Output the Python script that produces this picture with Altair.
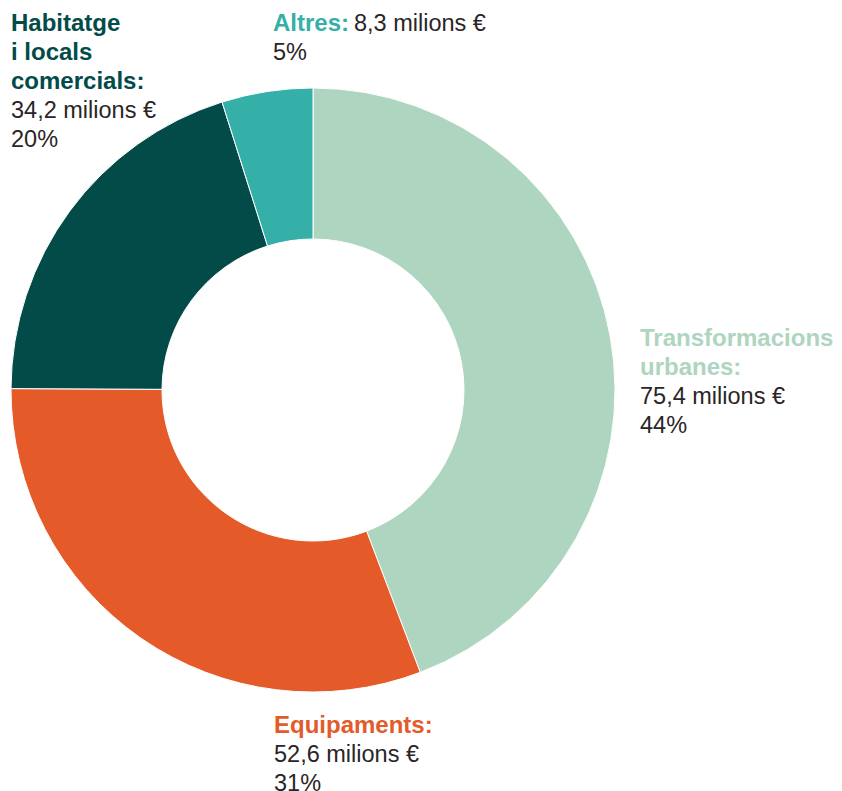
import altair as alt
import pandas as pd

# Data
categories = ["Transformacions urbanes", "Equipaments", "Habitatge i locals comercials", "Altres"]
values = [75.4, 52.6, 34.2, 8.3]
percents = ["44%", "31%", "20%", "5%"]
colors = ["#aed5bf", "#e45a28", "#024b49", "#35b0a8"]
name_lines = [["Transformacions", "urbanes:"], ["Equipaments:"], ["Habitatge", "i locals", "comercials:"], ["Altres:"]]

FONT = "Liberation Sans"
FS = 23.5
FS_BOLD = 24
LH = 29
TEXT_COLOR = "#2a2526"

# layout (plot coordinates)
CX, CY = 305, 382
R_OUT, R_IN = 302, 151
# label anchors: (x of bold, baseline y of first line, x offset for inline value or None)
anchors = {
    "Transformacions urbanes": (632, 338, None),
    "Equipaments": (266, 725, None),
    "Habitatge i locals comercials": (3, 23, None),
    "Altres": (265, 23, 81),
}

df = pd.DataFrame({"category": categories, "value": values, "order": list(range(len(categories)))})

donut = alt.Chart(df).mark_arc(
    innerRadius=R_IN, outerRadius=R_OUT, stroke="white", strokeWidth=1
).encode(
    theta=alt.Theta("value:Q", stack=True),
    order=alt.Order("order:Q"),
    color=alt.Color("category:N", scale=alt.Scale(domain=categories, range=colors), legend=None),
    x=alt.value(CX),
    y=alt.value(CY),
)

bold_rows, reg_rows = [], []
for cat, v, p, col, lines in zip(categories, values, percents, colors, name_lines):
    x0, y0, inline_dx = anchors[cat]
    for i, ln in enumerate(lines):
        bold_rows.append({"t": ln, "x": x0, "y": y0 + i * LH, "c": col})
    vtxt = f"{v:.1f}".replace(".", ",") + " milions €"
    if inline_dx is not None:
        reg_rows.append({"t": vtxt, "x": x0 + inline_dx, "y": y0, "c": TEXT_COLOR})
        reg_rows.append({"t": p, "x": x0, "y": y0 + LH, "c": TEXT_COLOR})
    else:
        n = len(lines)
        reg_rows.append({"t": vtxt, "x": x0, "y": y0 + n * LH, "c": TEXT_COLOR})
        reg_rows.append({"t": p, "x": x0, "y": y0 + (n + 1) * LH, "c": TEXT_COLOR})

def text_layer(rows, weight, size):
    return alt.Chart(pd.DataFrame(rows)).mark_text(
        align="left", baseline="alphabetic", font=FONT, fontSize=size, fontWeight=weight
    ).encode(
        x=alt.X("x:Q", scale=None),
        y=alt.Y("y:Q", scale=None),
        text="t:N",
        color=alt.Color("c:N", scale=None),
    )

chart = alt.layer(
    donut, text_layer(bold_rows, "bold", FS_BOLD), text_layer(reg_rows, "normal", FS)
).properties(
    width=826, height=783, padding=0, autosize="none", background="white"
).configure_view(strokeWidth=0, stroke="transparent")

chart.save("out.html", embed_options={"renderer": "svg", "actions": False})
